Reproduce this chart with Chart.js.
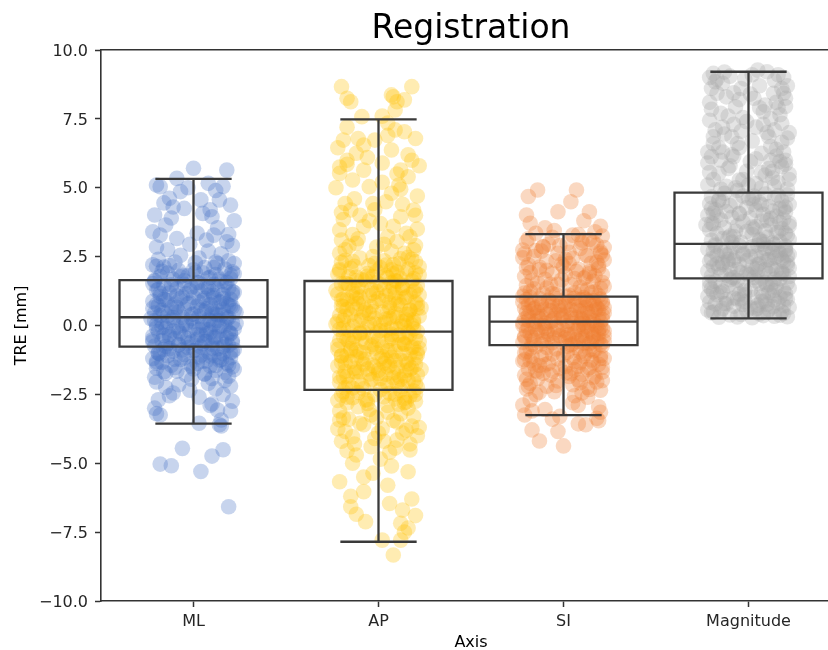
<!DOCTYPE html>
<html><head><meta charset="utf-8">
<script src="https://cdn.jsdelivr.net/npm/chart.js@4.4.1/dist/chart.umd.min.js"></script>
<style>
html,body{margin:0;padding:0;overflow:hidden;background:#fff;width:828px;height:650px}
#wrap{position:absolute;left:0;top:0;width:850px;height:650px}
</style>
</head><body><div id="wrap"><canvas id="c" width="850" height="650"></canvas></div>
<script>
const categories = ['ML','AP','SI','Magnitude'];
const colors = ['#4472C4','#FFC000','#ED7D31','#A5A5A5'];
const yTicks = [-10,-7.5,-5,-2.5,0,2.5,5,7.5,10];
const q1 = [-0.77,-2.34,-0.71,1.71];
const median = [0.30,-0.22,0.14,2.96];
const q3 = [1.65,1.615,1.05,4.82];
const whiskerLow = [-3.56,-7.85,-3.25,0.26];
const whiskerHigh = [5.32,7.485,3.32,9.21];

// [jitter offset, TRE value]
const mlPoints = [
[0.00,5.71],[0.18,5.64],[-0.09,5.34],[-0.18,5.04],[0.08,5.16],[-0.13,4.62],[0.14,4.56],[-0.21,4.01],[-0.15,3.65],[0.05,4.07],
[0.18,3.04],[-0.18,3.28],[-0.09,3.16],[0.11,3.28],[0.20,4.37],[-0.07,4.86],[0.04,4.56],[-0.20,5.1],[-0.03,5.0],[0.12,4.9],
[0.16,5.05],[-0.11,4.3],[0.09,4.2],[-0.16,4.45],[0.22,3.8],[0.13,3.55],[-0.22,3.4],[0.02,3.35],[0.07,3.1],[-0.12,3.9],
[0.19,3.3],[-0.05,4.25],[0.10,3.95],[0.21,2.9],[-0.20,2.85],[-0.02,2.95],[0.08,2.7],[-0.14,2.75],[0.15,2.6],[-0.07,2.55],
[0.03,2.45],[-0.19,2.4],[0.19,2.35],[0.12,2.3],[-0.10,2.3],[-0.22,2.2],[0.22,2.25],
[-0.20,2.15],[0.06,2.1],[0.17,2.05],[-0.08,2.0],[0.21,1.95],[-0.14,1.9],[0.01,1.92],[0.12,1.85],[-0.03,1.8],[-0.18,1.78],
[0.09,1.75],[0.20,1.7],[-0.11,1.68],[-0.05,1.62],[0.15,1.6],[0.03,1.55],[-0.22,1.52],[0.11,1.5],[-0.16,1.45],[0.07,1.42],
[-0.01,1.4],[0.19,1.35],[-0.09,1.33],[0.13,1.3],[-0.20,1.28],[0.04,1.25],[0.22,1.2],[-0.13,1.18],[-0.04,1.15],[0.16,1.12],
[0.08,1.1],[-0.18,1.05],[0.00,1.03],[0.11,1.0],[-0.07,0.98],[0.20,0.95],[-0.15,0.92],[0.05,0.9],[-0.22,0.88],[0.14,0.85],
[-0.02,0.82],[0.18,0.8],[-0.10,0.78],[0.09,0.75],[-0.19,0.72],[0.02,0.7],[0.21,0.68],[-0.12,0.65],[0.12,0.62],[-0.05,0.6],
[0.16,0.58],[-0.17,0.55],[0.06,0.52],[-0.08,0.5],[0.23,0.48],[-0.21,0.45],[0.10,0.43],[-0.01,0.4],[0.15,0.38],[-0.14,0.35],
[0.03,0.33],[-0.06,0.3],[0.19,0.28],[-0.23,0.25],[0.08,0.22],[-0.11,0.2],[0.13,0.18],[0.00,0.15],[-0.17,0.12],[0.21,0.1],
[-0.04,0.08],[0.11,0.05],[-0.20,0.03],[0.05,0.0],[0.17,-0.02],[-0.09,-0.05],[0.01,-0.08],[-0.15,-0.1],[0.22,-0.12],[0.07,-0.15],
[-0.02,-0.18],[0.14,-0.2],[-0.19,-0.22],[0.09,-0.25],[-0.07,-0.28],[0.20,-0.3],[-0.13,-0.33],[0.04,-0.35],[-0.22,-0.38],[0.12,-0.4],
[-0.05,-0.42],[0.18,-0.45],[-0.10,-0.48],[0.02,-0.5],[0.15,-0.53],[-0.17,-0.55],[0.07,-0.58],[-0.01,-0.6],[0.21,-0.62],[-0.14,-0.65],
[0.10,-0.68],[-0.08,-0.7],[0.19,-0.72],[-0.21,-0.75],[0.04,-0.78],[-0.03,-0.8],[0.13,-0.83],[-0.16,-0.86],[0.22,-0.88],[0.01,-0.9],
[-0.11,-0.93],[0.08,-0.96],[-0.19,-1.0],[0.16,-1.02],[-0.05,-1.05],[0.11,-1.08],[-0.14,-1.1],[0.03,-1.14],[0.20,-1.17],[-0.22,-1.2],
[-0.07,-1.23],[0.14,-1.26],[0.05,-1.3],[-0.17,-1.33],[0.18,-1.36],[-0.02,-1.4],[-0.12,-1.44],[0.09,-1.47],[0.21,-1.5],[-0.20,-1.55],
[0.00,-1.58],[0.12,-1.62],[-0.09,-1.66],[0.17,-1.7],[-0.15,-1.73],[0.06,-1.77],[-0.04,-1.8],[0.19,-1.84],[-0.21,-1.88],[0.10,-1.92],
[0.13,2.25],[-0.16,2.12],[0.00,2.02],[0.22,1.88],[-0.06,1.82],[0.08,1.72],[-0.21,1.64],[0.18,1.57],[-0.12,1.48],[0.02,1.37],
[-0.19,1.31],[0.10,1.22],[0.21,1.14],[-0.09,1.07],[0.06,0.99],[-0.16,0.94],[0.15,0.86],[-0.03,0.79],[0.20,0.71],[-0.22,0.63],
[0.04,0.56],[-0.10,0.49],[0.12,0.41],[-0.18,0.36],[0.18,0.31],[-0.01,0.26],[0.09,0.19],[-0.14,0.13],[0.23,0.07],[-0.06,0.01],
[0.14,-0.04],[-0.20,-0.09],[0.03,-0.14],[-0.11,-0.19],[0.19,-0.24],[0.07,-0.31],[-0.16,-0.36],[0.11,-0.43],[-0.03,-0.47],[0.21,-0.54],
[-0.22,-0.59],[0.05,-0.66],[-0.08,-0.71],[0.16,-0.77],[-0.13,-0.84],[0.00,-0.91],[0.20,-0.97],[-0.18,-1.03],[0.09,-1.11],[-0.05,-1.18],
[0.15,-1.24],[-0.20,-1.31],[0.02,-1.38],[0.12,-1.45],[-0.10,-1.52],[0.22,-1.6],[-0.16,-1.68],[0.06,-1.75],[-0.01,-1.95],[0.17,-2.0],
[-0.17,1.97],[0.05,1.91],[0.20,1.83],[-0.07,1.77],[0.14,1.69],[-0.21,1.61],[0.02,1.56],[0.17,1.47],[-0.12,1.41],[0.08,1.36],
[-0.02,1.27],[0.21,1.23],[-0.18,1.16],[0.11,1.09],[-0.06,1.04],[0.16,0.97],[-0.14,0.91],[0.03,0.84],[-0.20,0.77],[0.19,0.74],
[-0.09,0.66],[0.07,0.61],[0.22,0.54],[-0.16,0.47],[0.00,0.42],[0.13,0.37],[-0.11,0.29],[0.18,0.24],[-0.21,0.17],[0.05,0.11],
[-0.04,0.04],[0.15,-0.01],[-0.17,-0.07],[0.09,-0.13],[-0.08,-0.21],[0.20,-0.27],[0.02,-0.34],[-0.13,-0.41],[0.12,-0.46],[-0.22,-0.52],
[0.06,-0.57],[-0.03,-0.64],[0.17,-0.69],[-0.15,-0.76],[0.10,-0.82],[-0.06,-0.89],[0.21,-0.95],[-0.19,-1.01],[0.04,-1.07],[0.14,-1.16],
[-0.10,-1.22],[0.07,-1.29],[-0.20,-1.37],[0.19,-1.43],[-0.01,-1.49],[0.11,2.1],[-0.13,2.18],[0.01,2.28],[-0.05,1.5],[0.10,0.55],
[-0.20,-2.05],[0.08,-2.1],[-0.08,-2.15],[0.20,-2.2],[-0.15,-2.25],[0.12,-2.3],[-0.02,-2.35],[-0.11,-2.45],[0.16,-2.5],[0.03,-2.6],
[-0.19,-2.7],[0.21,-2.75],[0.10,-2.85],[-0.21,-3.0],[0.13,-3.07],[0.20,-3.1],[-0.18,-3.25],[0.15,-3.43],[0.03,-3.55],[0.14,-3.6],
[0.15,-3.65],[-0.20,-3.2],[0.09,-2.9],[-0.13,-2.55],
[-0.06,-4.46],[-0.18,-5.03],[-0.12,-5.09],[0.04,-5.30],[0.10,-4.74],[0.16,-4.51],[0.19,-6.58]
];

const apPoints = [
[-0.20,8.67],[0.18,8.67],[-0.15,8.12],[-0.17,8.25],[0.07,8.37],[0.10,8.12],[0.14,8.19],[-0.09,7.58],[0.09,7.82],[0.08,8.3],
[-0.19,6.73],[-0.11,6.79],[-0.02,6.73],[0.09,7.1],[0.14,7.03],[0.20,6.79],[0.07,6.37],[0.18,6.0],[-0.12,6.25],[-0.21,5.52],
[-0.08,5.64],[-0.14,5.28],[-0.05,5.04],[0.12,5.64],[0.11,5.1],[-0.18,4.43],[-0.15,4.19],[-0.03,4.43],[0.04,4.49],[0.19,4.19],
[0.12,3.95],[-0.21,3.47],[-0.08,3.59],[0.05,3.22],[0.17,3.22],[-0.12,2.98],[-0.21,2.62],[0.14,2.62],[-0.03,2.5],
[-0.17,7.2],[0.02,7.6],[-0.22,6.45],[0.05,6.9],[-0.06,6.1],[0.22,5.8],[0.02,5.9],[-0.17,5.85],[0.16,5.4],[-0.23,5.0],
[0.07,4.8],[0.21,4.7],[-0.10,4.0],[0.13,4.4],[-0.19,3.85],[0.01,3.7],[0.21,3.5],[-0.14,3.3],[0.10,3.05],[-0.01,2.85],
[0.20,2.9],[-0.18,2.75],[0.07,2.7],
[-0.20,3.1],[0.15,3.35],[-0.05,3.8],[0.20,4.0],[-0.13,4.6],[0.02,5.2],[-0.21,5.75],[0.16,6.2],[-0.08,6.55],[0.05,7.35],
[0.19,2.75],[-0.16,2.88],[0.08,3.6],[-0.02,4.2],[0.12,4.95],[-0.17,6.0],[0.10,5.5],[-0.11,3.15],[0.03,2.95],[-0.20,4.1],
[-0.10,2.45],[0.18,2.40],[0.03,2.35],[-0.20,2.29],[0.11,2.24],[-0.05,2.18],[0.22,2.13],[-0.15,2.08],[0.07,2.02],[-0.01,1.97],
[0.15,1.92],[-0.22,1.86],[0.04,1.81],[-0.12,1.76],[0.19,1.70],[-0.07,1.65],[0.10,1.60],[-0.18,1.54],[0.01,1.49],[0.21,1.44],
[-0.09,1.38],[0.13,1.33],[-0.23,1.28],[0.06,1.22],[-0.03,1.17],[0.17,1.12],[-0.14,1.06],[0.09,1.01],[-0.19,0.96],[0.02,0.90],
[0.20,0.85],[-0.11,0.80],[0.12,0.74],[-0.04,0.69],[0.23,0.64],[-0.17,0.58],[0.05,0.53],[-0.08,0.48],[0.16,0.42],[-0.21,0.37],
[0.08,0.32],[-0.02,0.26],[0.19,0.21],[-0.13,0.16],[0.03,0.10],[-0.23,0.05],[0.14,0.00],[-0.06,-0.06],[0.10,-0.11],[-0.16,-0.16],
[0.21,-0.22],[-0.01,-0.27],[0.07,-0.32],[-0.19,-0.38],[0.15,-0.43],[-0.09,-0.48],[0.00,-0.54],[0.22,-0.59],[-0.14,-0.64],[0.11,-0.70],
[-0.04,-0.75],[0.18,-0.80],[-0.22,-0.86],[0.06,-0.91],[-0.10,-0.96],[0.13,-1.02],[-0.17,-1.07],[0.02,-1.12],[0.20,-1.18],[-0.07,-1.23],
[0.09,-1.28],[-0.20,-1.34],[0.16,-1.39],[-0.03,-1.44],[0.05,-1.50],[-0.13,-1.55],[0.23,-1.60],[-0.18,-1.66],[0.08,-1.71],[-0.05,-1.76],
[0.14,-1.82],[-0.21,-1.87],[0.01,-1.92],[0.19,-1.98],[-0.11,-2.03],[0.10,-2.08],[-0.16,-2.14],[0.04,-2.19],[0.21,-2.24],[-0.08,-2.30],
[0.12,-2.35],[-0.19,-2.40],[0.06,-2.46],[-0.02,-2.51],[0.17,-2.56],[-0.14,-2.62],[0.09,-2.67],[-0.22,-2.72],[0.15,-2.78],[-0.06,-2.83],
[0.12,2.42],[-0.18,2.37],[0.20,2.31],[-0.02,2.26],[0.08,2.21],[-0.13,2.15],[0.01,2.10],[0.16,2.05],[-0.21,1.99],[0.10,1.94],
[-0.06,1.89],[0.22,1.83],[-0.16,1.78],[0.05,1.73],[-0.09,1.67],[0.18,1.62],[-0.01,1.57],[-0.20,1.51],[0.13,1.46],[-0.11,1.41],
[0.03,1.35],[0.20,1.30],[-0.14,1.25],[0.09,1.19],[-0.22,1.14],[-0.05,1.09],[0.15,1.03],[0.00,0.98],[-0.17,0.93],[0.11,0.87],
[-0.08,0.82],[0.21,0.77],[-0.20,0.71],[0.06,0.66],[-0.12,0.61],[0.17,0.55],[-0.03,0.50],[0.09,0.45],[-0.15,0.39],[0.22,0.34],
[-0.09,0.29],[0.04,0.23],[-0.19,0.18],[0.13,0.13],[-0.05,0.07],[0.18,0.02],[-0.14,-0.03],[0.07,-0.09],[-0.21,-0.14],[0.01,-0.19],
[0.16,-0.25],[-0.10,-0.30],[0.11,-0.35],[-0.03,-0.41],[0.20,-0.46],[-0.17,-0.51],[0.05,-0.57],[-0.07,-0.62],[0.14,-0.67],[-0.22,-0.73],
[0.02,-0.78],[0.22,-0.83],[-0.12,-0.89],[0.09,-0.94],[-0.01,-0.99],[0.17,-1.05],[-0.20,-1.10],[0.07,-1.15],[-0.09,-1.21],[0.12,-1.26],
[-0.15,-1.31],[0.03,-1.37],[0.20,-1.42],[-0.22,-1.47],[0.10,-1.53],[-0.06,-1.58],[0.15,-1.63],[-0.12,-1.69],[0.00,-1.74],[0.21,-1.79],
[-0.17,-1.85],[0.08,-1.90],[-0.03,-1.95],[0.16,-2.01],[-0.21,-2.06],[0.05,-2.11],[-0.09,-2.17],[0.13,-2.22],[-0.14,-2.27],[0.01,-2.33],
[0.19,-2.38],[-0.11,-2.43],[0.09,-2.49],[-0.20,-2.54],[0.03,-2.59],[0.14,-2.65],[-0.07,-2.70],[0.20,-2.75],[-0.17,-2.81],[0.11,-2.86],
[-0.16,1.48],[0.08,1.39],[-0.04,1.31],[0.19,1.24],[-0.12,1.16],[0.04,1.08],[0.14,1.00],[-0.20,0.93],[-0.02,0.86],[0.10,0.78],
[-0.14,0.71],[0.21,0.63],[-0.07,0.56],[0.02,0.49],[0.15,0.41],[-0.18,0.34],[0.06,0.27],[-0.10,0.19],[0.19,0.12],[-0.02,0.05],
[0.12,-0.03],[-0.19,-0.10],[0.04,-0.17],[-0.08,-0.25],[0.17,-0.32],[-0.13,-0.39],[0.07,-0.47],[-0.21,-0.54],[0.13,-0.62],[-0.03,-0.69],
[0.19,-0.77],[-0.15,-0.84],[0.05,-0.91],[-0.08,-0.99],[0.21,-1.06],[-0.12,-1.14],[0.01,-1.21],[0.15,-1.29],[-0.18,-1.36],[0.06,-1.44],
[-0.02,-1.51],[0.07,1.55],[-0.12,1.62],[0.12,1.70],[-0.03,1.78],[0.17,-1.60],[-0.10,-1.68],[0.04,-1.77],[-0.19,-1.86],[0.12,-1.95],
[0.16,2.48],[-0.14,2.33],[0.04,2.19],[-0.21,2.04],[0.20,1.91],[-0.06,1.79],[0.09,1.63],[-0.17,1.52],[0.13,1.37],[-0.01,1.23],
[0.22,1.11],[-0.12,0.97],[0.06,0.83],[-0.19,0.68],[0.17,0.57],[-0.05,0.44],[0.10,0.31],[-0.22,0.15],[0.01,0.03],[0.19,-0.12],
[-0.10,-0.26],[0.07,-0.39],[-0.16,-0.55],[0.14,-0.68],[-0.02,-0.82],[0.21,-0.97],[-0.20,-1.11],[0.04,-1.25],[-0.08,-1.40],[0.18,-1.54],
[-0.13,-1.69],[0.11,-1.83],[-0.04,-1.98],[0.20,-2.12],[-0.18,-2.26],[0.08,1.88],[-0.10,1.03],[0.15,0.20],[-0.15,-0.90],[0.00,-1.62],
[-0.11,-2.95],[0.16,-3.0],[-0.21,-3.1],[0.05,-3.15],[-0.04,-3.25],[0.19,-3.3],[-0.16,-3.4],[-0.21,-3.43],[0.10,-3.5],[-0.08,-3.6],
[0.22,-3.7],[0.02,-3.75],[-0.18,-3.85],[0.13,-3.9],[-0.14,-4.04],[0.10,-4.16],[-0.02,-4.1],[0.17,-4.3],[-0.04,-4.4],[0.17,-4.52],
[-0.20,-4.2],[0.06,-4.6],[-0.12,-4.7],[0.01,-4.85],[-0.14,-5.0],[0.16,-5.31],[-0.03,-5.36],[-0.21,-5.67],[0.07,-5.1],[-0.08,-5.5],
[-0.08,-6.03],[0.05,-5.8],[-0.15,-6.2],[-0.15,-6.58],[0.06,-6.46],[0.13,-6.7],[-0.07,-7.12],[0.12,-7.18],[0.18,-6.3],[0.20,-6.9],
[0.02,-7.79],[0.12,-7.79],[0.08,-8.33],[0.14,-7.5],[-0.12,-6.85],[0.16,-7.35],
[0.20,-2.5],[-0.17,-2.6],[0.05,-2.9],[-0.05,-3.05],[0.12,-3.2],[-0.19,-3.35],[0.08,-3.45],[-0.10,-3.55],[0.18,-3.65],[-0.22,-3.75],
[0.00,-3.9],[0.21,-4.0],[-0.13,-4.3],[0.09,-4.45],[-0.06,-2.7],[0.14,-2.8],[-0.01,-3.35],[0.03,-4.2],[-0.17,-4.55],[0.15,-3.8]
];

const siPoints = [
[-0.14,4.92],[0.07,4.92],[-0.19,4.68],[0.04,4.49],[-0.03,4.13],[0.14,4.13],[-0.20,4.01],[-0.18,3.71],[0.20,3.6],[-0.10,3.55],
[0.11,3.8],[-0.05,3.45],[0.17,3.4],
[-0.15,3.35],[0.08,3.30],[0.21,3.25],[-0.06,3.20],[0.14,3.12],[-0.20,3.05],[0.02,2.98],[0.18,2.92],[-0.11,2.86],[0.09,2.80],
[-0.22,2.74],[0.20,2.68],[-0.03,2.62],[0.12,2.56],[-0.16,2.50],[0.05,2.44],[0.22,2.38],[-0.09,2.32],[0.15,2.26],[-0.19,2.20],
[0.00,2.14],[0.19,2.08],[-0.13,2.02],[0.07,1.96],[-0.06,1.90],[0.21,1.84],[-0.21,1.78],[0.11,1.72],[-0.01,1.66],[0.16,1.60],
[-0.14,1.54],[0.04,1.48],[0.22,1.42],[-0.09,1.36],[0.13,1.30],[-0.18,1.24],[0.06,1.18],[-0.04,1.12],[0.19,1.08],[-0.22,1.06],
[0.10,3.0],[-0.12,2.7],[0.01,2.4],[-0.20,2.1],[0.17,1.8],[-0.07,1.5],[0.10,1.25],[-0.02,2.9],[0.21,2.55],[0.03,2.25],
[0.14,1.95],[-0.17,1.65],[0.20,1.35],[-0.11,1.15],[-0.09,2.0],[0.06,1.7],[-0.20,1.45],[0.15,1.2],[-0.21,2.6],[0.18,2.3],
[0.05,3.28],[-0.19,3.15],[0.16,3.02],[-0.08,2.95],[0.22,2.83],[-0.15,2.72],[0.03,2.66],[0.13,2.52],[-0.22,2.46],[-0.04,2.35],
[0.19,2.18],[-0.13,2.12],[0.08,2.04],[-0.18,1.92],[0.01,1.86],[0.12,1.76],[-0.10,1.68],[0.21,1.56],[-0.03,1.5],[0.09,1.40],
[-0.16,1.33],[0.17,1.22],[-0.06,1.16],[0.03,1.10],[-0.21,1.18],[0.14,1.88],[-0.01,2.22],[0.20,2.62],[-0.11,2.86],[0.10,3.1],
[-0.18,1.03],[0.06,0.99],[0.20,0.96],[-0.08,0.92],[0.13,0.89],[-0.22,0.85],[0.01,0.82],[0.17,0.78],[-0.12,0.75],[0.09,0.71],
[-0.03,0.68],[0.22,0.64],[-0.16,0.61],[0.04,0.57],[-0.07,0.54],[0.15,0.50],[-0.20,0.47],[0.11,0.43],[-0.01,0.40],[0.19,0.36],
[-0.14,0.33],[0.07,0.29],[-0.05,0.26],[0.21,0.22],[-0.19,0.19],[0.02,0.15],[0.14,0.12],[-0.10,0.08],[0.09,0.05],[-0.22,0.01],
[0.18,-0.02],[-0.04,-0.06],[0.11,-0.09],[-0.15,-0.13],[0.00,-0.16],[0.22,-0.20],[-0.09,-0.23],[0.06,-0.27],[-0.18,-0.30],[0.16,-0.34],
[-0.02,-0.37],[0.12,-0.41],[-0.21,-0.44],[0.03,-0.48],[0.19,-0.51],[-0.11,-0.55],[0.08,-0.58],[-0.06,-0.62],[0.14,-0.65],[-0.17,-0.69],
[0.11,1.01],[-0.04,0.97],[-0.20,0.94],[0.16,0.90],[0.03,0.87],[-0.12,0.83],[0.21,0.80],[-0.17,0.76],[0.06,0.73],[-0.07,0.69],
[0.12,0.66],[-0.21,0.62],[0.19,0.59],[-0.02,0.55],[0.09,0.52],[-0.14,0.48],[0.22,0.45],[-0.09,0.41],[0.04,0.38],[-0.19,0.34],
[0.14,0.31],[-0.01,0.27],[-0.13,0.24],[0.10,0.20],[-0.06,0.17],[0.20,0.13],[-0.22,0.10],[0.05,0.06],[0.17,0.03],[-0.11,-0.01],
[0.08,-0.04],[-0.19,-0.08],[0.21,-0.11],[-0.03,-0.15],[0.13,-0.18],[-0.14,-0.22],[0.02,-0.25],[0.19,-0.29],[-0.08,-0.32],[0.10,-0.36],
[-0.21,-0.39],[0.16,-0.43],[-0.05,-0.46],[0.07,-0.50],[-0.16,-0.53],[0.22,-0.57],[-0.01,-0.60],[0.11,-0.64],[-0.12,-0.67],[0.04,-0.70],
[0.02,1.04],[-0.13,0.98],[0.09,0.93],[0.21,0.88],[-0.06,0.84],[0.14,0.79],[-0.19,0.74],[0.01,0.70],[0.18,0.65],[-0.10,0.60],
[0.07,0.56],[-0.18,0.51],[0.13,0.46],[-0.04,0.42],[0.21,0.37],[-0.12,0.32],[0.04,0.28],[-0.21,0.23],[0.16,0.18],[-0.07,0.14],
[0.11,0.09],[-0.16,0.04],[0.02,0.00],[0.20,-0.05],[-0.10,-0.10],[0.08,-0.14],[-0.20,-0.19],[0.15,-0.24],[-0.05,-0.28],[0.03,-0.33],
[0.22,-0.38],[-0.17,-0.42],[0.10,-0.47],[-0.09,-0.52],[0.18,-0.56],[-0.22,-0.61],[0.05,-0.66],[0.20,-0.68],[0.00,0.35],[-0.15,0.15],
[0.13,-0.05],[-0.12,-0.25],[0.17,0.55],[-0.02,0.75],[0.12,0.95],[0.01,-0.45],[0.15,-0.60],[0.10,0.25],[-0.15,0.65],[0.19,-0.15],
[0.21,-0.73],[-0.15,-0.77],[0.07,-0.81],[-0.04,-0.85],[0.17,-0.89],[-0.20,-0.93],[0.02,-0.97],[0.12,-1.01],[-0.10,-1.05],[0.20,-1.09],
[-0.17,-1.13],[0.05,-1.17],[-0.03,-1.21],[0.15,-1.25],[-0.22,-1.29],[0.09,-1.33],[-0.08,-1.37],[0.19,-1.41],[-0.13,-1.45],[0.01,-1.49],
[0.14,-1.53],[-0.19,-1.57],[0.06,-1.61],[-0.06,-1.65],[0.21,-1.69],[-0.11,-1.73],[0.10,-1.77],[-0.21,-1.81],[0.03,-1.85],[0.16,-1.89],
[-0.14,-1.93],[0.08,-1.97],[-0.03,-2.01],[0.18,-2.05],[-0.18,-2.10],[0.05,-2.15],[-0.09,-2.20],[0.13,-2.25],[-0.20,-2.30],[0.20,-2.35],
[-0.05,-2.40],[0.10,-2.45],[-0.15,-2.50],[0.09,-0.95],[-0.12,-1.15],[0.16,-1.35],[-0.02,-1.55],[0.04,-1.75],[-0.09,-0.80],[-0.21,-1.00],
[0.22,-1.20],[-0.16,-1.40],[0.13,-1.60],[-0.07,-1.80],[0.21,-2.00],[0.14,-0.88],[0.00,-1.08],[-0.18,-1.28],[0.08,-1.48],[-0.14,-1.68],
[0.02,-0.75],[-0.18,-0.84],[0.16,-0.92],[-0.06,-1.03],[0.11,-1.12],[-0.21,-1.24],[0.06,-1.31],[-0.10,-1.43],[0.21,-1.52],[-0.15,-1.63],
[0.01,-1.72],[0.17,-1.84],[-0.20,-1.95],[0.09,-2.08],[-0.04,-2.18],[0.14,-2.32],[-0.13,-2.42],[0.06,-2.55],[-0.19,-2.2],[0.20,-1.2],
[0.13,-2.6],[-0.18,-2.7],[0.05,-2.8],[-0.22,-2.89],[0.08,-2.89],[0.19,-2.95],[-0.10,-3.05],[-0.21,-3.25],[0.20,-3.15],[-0.02,-3.3],
[0.18,-3.37],[0.19,-3.46],[-0.17,-3.79],[0.08,-3.57],[-0.13,-4.19],[-0.03,-3.85],[0.00,-4.37],[0.12,-3.6],[-0.06,-3.4],[-0.17,-3.1]
];

const magPoints = [
[-0.19,9.15],[0.05,9.27],[0.10,9.21],[-0.14,8.79],[-0.17,8.43],[0.135,8.43],[0.19,8.43],[-0.07,7.94],[0.08,7.76],[0.18,7.34],
[-0.18,7.1],[-0.09,6.85],[0.11,6.85],[-0.20,6.13],[-0.08,6.13],[0.12,6.5],[0.20,6.0],[-0.16,5.52],[0.09,5.46],[0.18,5.76],
[-0.05,5.28],[-0.21,9.0],[-0.10,9.05],[0.16,9.1],[-0.02,8.95],[0.21,8.7],[-0.20,8.6],[-0.04,8.6],[0.15,8.1],[-0.12,8.3],
[-0.21,8.1],[0.03,8.25],[0.20,7.95],[-0.15,7.7],[-0.03,7.55],[0.12,7.5],[0.04,7.2],[-0.21,7.45],[0.14,7.1],[0.22,7.0],
[-0.13,6.95],[0.02,6.7],[-0.19,6.6],[0.18,6.65],[-0.05,6.45],[0.07,6.25],[-0.14,6.3],[0.15,6.15],[0.01,5.95],[-0.22,5.9],
[-0.10,5.8],[0.11,5.7],[0.22,5.5],[-0.19,5.3],[0.04,5.15],[0.16,5.2],[-0.12,5.05],[0.21,4.95],[-0.06,4.9],[0.07,5.0],
[-0.22,5.1],[0.13,5.35],[-0.01,5.6],[-0.15,6.0],[0.19,6.3],[-0.08,7.3],[0.09,8.0],[-0.17,8.95],[0.06,8.7],[0.17,5.95],
[-0.18,8.85],[0.02,9.1],[0.14,8.9],[-0.08,8.45],[0.20,8.25],[-0.20,7.85],[0.06,7.9],[-0.11,7.6],[0.17,7.65],[-0.01,7.4],
[0.10,7.0],[-0.19,6.85],[0.21,6.8],[-0.06,6.6],[0.15,6.4],[-0.16,6.45],[0.04,6.05],[-0.11,5.7],[0.20,5.85],[-0.21,5.55],
[0.07,5.55],[-0.03,5.3],[0.14,5.05],[-0.15,4.95],[0.00,5.1],[0.22,5.3],[-0.09,6.2],[0.12,6.0],[-0.04,7.05],[0.08,7.3],
[-0.14,7.2],[0.18,8.6],[-0.05,8.2],[0.19,9.0],[-0.13,9.2],[0.01,8.4],[-0.22,6.3],[0.13,5.6],[-0.07,5.0],[0.16,7.9],
[-0.13,4.80],[0.09,4.77],[0.21,4.74],[-0.03,4.70],[-0.20,4.67],[0.14,4.63],[0.02,4.60],[-0.16,4.56],[0.18,4.53],[-0.07,4.49],
[0.06,4.46],[-0.21,4.42],[0.22,4.39],[-0.10,4.35],[0.11,4.32],[-0.01,4.28],[0.17,4.25],[-0.18,4.21],[0.04,4.18],[-0.12,4.14],
[0.20,4.11],[-0.05,4.07],[0.08,4.04],[-0.22,4.00],[0.15,3.97],[-0.09,3.93],[0.01,3.90],[0.19,3.86],[-0.15,3.83],[0.07,3.79],
[-0.03,3.76],[0.22,3.72],[-0.19,3.69],[0.12,3.65],[-0.06,3.62],[0.04,3.58],[-0.13,3.55],[0.18,3.51],[-0.21,3.48],[0.09,3.44],
[-0.01,3.41],[0.15,3.37],[-0.17,3.34],[0.02,3.30],[0.21,3.27],[-0.08,3.23],[0.10,3.20],[-0.14,3.16],[0.06,3.13],[-0.20,3.09],
[0.17,3.06],[-0.04,3.02],[0.13,2.99],[0.00,4.62],[-0.14,4.48],[0.20,4.30],[0.13,4.15],[-0.17,3.98],[0.10,3.82],[-0.23,3.66],
[0.03,3.50],[0.20,3.35],[-0.11,3.18],[0.08,3.04],[0.16,4.72],[0.03,4.40],[-0.19,4.08],[0.17,3.74],[-0.07,3.42],[0.22,3.12],
[-0.18,2.95],[0.05,2.92],[0.20,2.88],[-0.08,2.85],[0.12,2.82],[-0.22,2.78],[0.00,2.75],[0.16,2.72],[-0.13,2.68],[0.08,2.65],
[-0.03,2.62],[0.22,2.58],[-0.17,2.55],[0.04,2.52],[-0.07,2.48],[0.14,2.45],[-0.20,2.42],[0.10,2.38],[-0.01,2.35],[0.19,2.32],
[-0.14,2.28],[0.06,2.25],[-0.05,2.22],[0.21,2.18],[-0.19,2.15],[0.02,2.12],[0.13,2.08],[-0.10,2.05],[0.09,2.02],[-0.22,1.98],
[0.18,1.95],[-0.04,1.92],[0.11,1.88],[-0.15,1.85],[0.00,1.82],[0.22,1.78],[-0.09,1.75],[0.07,1.72],[-0.05,2.90],[0.09,2.80],
[-0.19,2.70],[0.17,2.60],[0.01,2.50],[-0.11,2.40],[0.21,2.30],[0.05,2.20],[-0.16,2.10],[0.15,2.00],[-0.01,1.90],[-0.20,1.80],
[0.14,2.94],[0.20,2.76],[-0.10,2.63],[0.07,2.46],[-0.21,2.33],[0.12,2.16],[-0.06,2.03],[0.19,1.87],[0.03,1.74],[-0.12,2.56],
[0.02,2.86],[0.13,2.67],[0.18,2.41],[-0.17,2.24],[0.22,2.09],[0.05,1.96],[-0.12,1.83],[-0.08,2.37],[-0.15,2.74],[0.21,2.53],
[0.17,1.70],[-0.10,1.66],[0.04,1.62],[-0.21,1.58],[0.21,1.54],[-0.03,1.50],[0.10,1.46],[-0.15,1.42],[0.15,1.38],[-0.07,1.34],
[0.01,1.30],[0.19,1.26],[-0.19,1.22],[0.07,1.18],[-0.05,1.14],[0.13,1.10],[-0.22,1.06],[0.03,1.02],[0.20,0.98],[-0.12,0.94],
[0.09,0.90],[-0.02,0.86],[0.16,0.82],[-0.18,0.78],[0.05,0.74],[-0.08,0.70],[0.22,0.66],[-0.14,0.62],[0.11,0.58],[-0.01,0.54],
[0.18,0.50],[-0.20,0.46],[0.06,0.42],[-0.10,0.38],[0.14,0.34],[-0.16,0.30],[0.02,0.28],[0.21,0.32],[-0.04,0.40],[0.10,0.48],
[-0.22,0.56],[0.01,0.64],[0.19,0.72],[-0.13,0.80],[0.07,0.88],[-0.06,0.96],[0.17,1.04],[-0.17,1.12],[0.11,1.20],[-0.02,1.28],
[0.22,1.36],[-0.11,1.44],[0.06,1.52],[-0.18,1.60],[0.14,1.68],[0.08,0.36],[-0.15,0.52],[0.13,0.68],[-0.21,0.84],[-0.08,1.00],
[0.20,1.16],[-0.20,1.32],[0.12,1.48],[-0.06,1.64],[0.19,0.44],[0.04,0.60],[-0.03,0.76],[0.14,0.92],[0.08,1.08],[-0.14,1.24],
[-0.16,4.55],[0.07,4.38],[0.19,4.22],[-0.05,4.05],[0.12,3.88],[-0.20,3.71],[0.02,3.57],[0.16,3.39],[-0.10,3.25],[0.06,3.08],
[-0.18,2.89],[0.20,2.71],[-0.03,2.57],[0.11,2.39],[-0.14,2.21],[0.04,2.06],[0.18,1.89],[-0.08,1.73],[0.09,1.57],[-0.21,1.41],
[0.14,1.27],[-0.02,1.11],[0.21,0.95],[-0.12,0.79],[0.05,0.63],[-0.19,0.49],[0.17,0.37],[-0.06,0.31],[0.10,0.77],[-0.15,1.19],
[0.01,1.85],[0.15,2.49],[-0.09,3.02],[0.22,3.62],[-0.20,4.25],[0.03,4.7],[0.08,2.95],[-0.11,2.3],[0.13,1.55],[-0.04,0.95]
];

Chart.defaults.font.family = "'DejaVu Sans', sans-serif";
Chart.defaults.color = '#262626';

function rgba(hex, a) {
  const n = parseInt(hex.slice(1), 16);
  return 'rgba(' + ((n >> 16) & 255) + ',' + ((n >> 8) & 255) + ',' + (n & 255) + ',' + a + ')';
}
const groups = [mlPoints, apPoints, siPoints, magPoints];
const pointSets = groups.map((pts, i) => ({
  type: 'scatter',
  data: pts.map(p => ({x: i + p[0], y: p[1]})),
  backgroundColor: rgba(colors[i], 0.3),
  borderWidth: 0,
  pointRadius: 7.8,
  pointHoverRadius: 7.8,
  order: 2
}));
const boxHalf = 0.4, capHalf = 0.2;
const boxSets = categories.map((c, i) => {
  const g = {x: i, y: null};
  return {
    type: 'scatter', showLine: true, order: 1, spanGaps: false, fill: false,
    pointRadius: 0, pointHoverRadius: 0,
    borderColor: '#3a3a3a', borderWidth: 2.3, borderCapStyle: 'square', borderJoinStyle: 'miter',
    data: [
      {x: i - boxHalf, y: q1[i]}, {x: i + boxHalf, y: q1[i]}, {x: i + boxHalf, y: q3[i]}, {x: i - boxHalf, y: q3[i]}, {x: i - boxHalf, y: q1[i]}, g,
      {x: i - boxHalf, y: median[i]}, {x: i + boxHalf, y: median[i]}, g,
      {x: i, y: q3[i]}, {x: i, y: whiskerHigh[i]}, g,
      {x: i - capHalf, y: whiskerHigh[i]}, {x: i + capHalf, y: whiskerHigh[i]}, g,
      {x: i, y: q1[i]}, {x: i, y: whiskerLow[i]}, g,
      {x: i - capHalf, y: whiskerLow[i]}, {x: i + capHalf, y: whiskerLow[i]}
    ]
  };
});

const axisColor = '#333333';
new Chart(document.getElementById('c'), {
  type: 'scatter',
  data: {datasets: [...boxSets, ...pointSets]},
  options: {
    responsive: false, animation: false, devicePixelRatio: 1,
    layout: {padding: {left: 0, right: 9, top: 0, bottom: 0}},
    plugins: {
      legend: {display: false},
      tooltip: {enabled: false},
      title: {display: true, text: 'Registration', fullSize: false, color: '#000',
        font: {size: 33, weight: 'normal', lineHeight: 1.2}, padding: {top: 9.5, bottom: 0.9}}
    },
    scales: {
      x: {
        type: 'linear', position: 'bottom', min: -0.5, max: 3.5,
        afterBuildTicks: s => { s.ticks = categories.map((c, i) => ({value: i})); },
        afterFit: s => { s.height = 49; },
        ticks: {callback: v => categories[v], font: {size: 16}, color: '#262626', padding: 5, maxRotation: 0, autoSkip: false},
        grid: {display: true, drawOnChartArea: false, drawTicks: true, tickLength: 6, tickWidth: 1.5, tickColor: axisColor},
        border: {display: true, color: axisColor, width: 1.6},
        title: {display: true, text: 'Axis', color: '#000', font: {size: 16, lineHeight: 0.9}, padding: 0}
      },
      x2: {
        type: 'linear', position: 'top', min: -0.5, max: 3.5,
        afterFit: s => { s.height = 0; },
        ticks: {display: false},
        grid: {display: false, drawTicks: false},
        border: {display: true, color: axisColor, width: 1.6}
      },
      y: {
        type: 'linear', min: -10, max: 10,
        afterBuildTicks: s => { s.ticks = yTicks.map(v => ({value: v})); },
        afterFit: s => { s.width = 101; },
        ticks: {callback: v => v.toFixed(1).replace('-', '\u2212'), font: {size: 16}, color: '#262626', padding: 7, labelOffset: 1.5},
        grid: {display: true, drawOnChartArea: false, drawTicks: true, tickLength: 6, tickWidth: 1.5, tickColor: axisColor},
        border: {display: true, color: axisColor, width: 1.6},
        title: {display: true, text: 'TRE [mm]', color: '#000', font: {size: 16, lineHeight: 1.2}, padding: {top: 11.8, bottom: 0}}
      }
    }
  }
});
</script>
</body></html>
